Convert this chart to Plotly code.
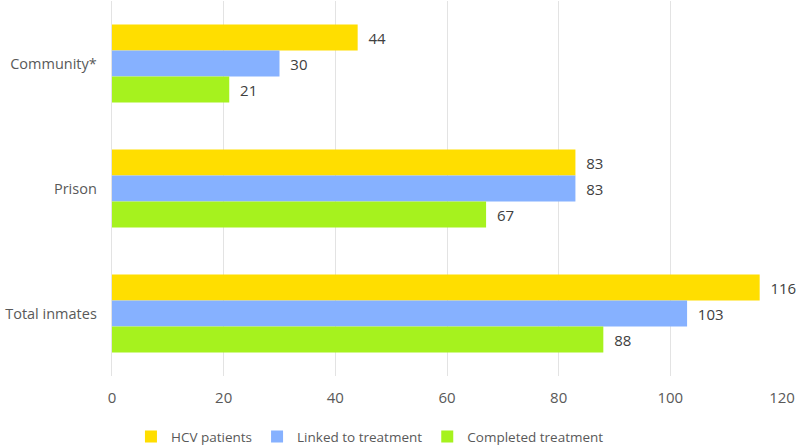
import plotly.graph_objects as go

categories = ["Community*", "Prison", "Total inmates"]
series_names = ["HCV patients", "Linked to treatment", "Completed treatment"]
hcv = [44, 83, 116]
linked = [30, 83, 103]
completed = [21, 67, 88]
colors = ["#FFDE00", "#86B1FF", "#A6F21E"]
x_ticks = [0, 20, 40, 60, 80, 100, 120]

fig = go.Figure()
for name, vals, col in zip(series_names, [hcv, linked, completed], colors):
    fig.add_trace(go.Bar(
        y=categories, x=vals, name=name, orientation="h",
        marker=dict(color=col, line=dict(width=0)),
        text=["  " + str(v) for v in vals], textposition="outside",
        textfont=dict(color="#404040", size=15),
        cliponaxis=False,
    ))

fig.update_layout(
    width=797, height=446,
    barmode="group", bargap=0.376, bargroupgap=0,
    plot_bgcolor="white", paper_bgcolor="white",
    margin=dict(l=112, r=15, t=1, b=70, autoexpand=False),
    font=dict(family="Open Sans, sans-serif", size=15, color="#595959"),
    xaxis=dict(range=[0, 120], tickvals=x_ticks, showgrid=True, gridcolor="#E3E3E3",
               gridwidth=1, zeroline=False, showline=False, ticks="", automargin=False,
               ticklabelstandoff=11,
               tickfont=dict(size=15, color="#595959")),
    yaxis=dict(autorange="reversed", showgrid=False, showline=True, linecolor="#E3E3E3",
               ticks="", ticksuffix="   ", automargin=False,
               tickfont=dict(size=14.5, color="#595959")),
    legend=dict(orientation="h", x=0.385, xanchor="center", y=-0.162, yanchor="middle",
                font=dict(size=13.5, color="#595959"), traceorder="normal",
                itemwidth=30, tracegroupgap=0),
    uniformtext=dict(minsize=8),
)
fig.write_html("out.html", config={"displayModeBar": False},
               post_script="document.body.style.margin='0';document.body.style.padding='0';")
